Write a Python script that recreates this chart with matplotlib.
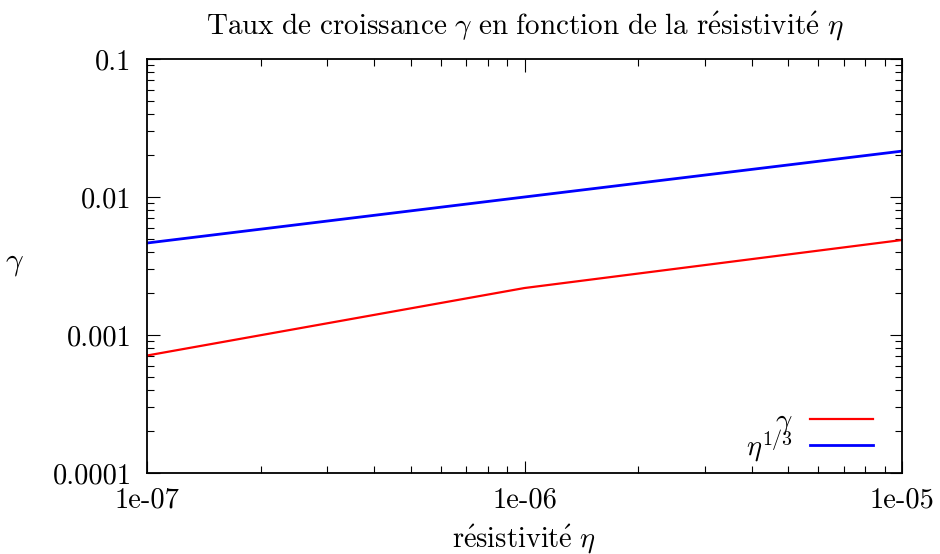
import matplotlib
matplotlib.use('Agg')
import matplotlib.pyplot as plt
from matplotlib.ticker import LogLocator, FuncFormatter, NullFormatter

# données
eta = [1e-7, 1e-6, 1e-5]
gamma = [7.1e-4, 2.19e-3, 4.88e-3]
eta_13 = [4.64e-3, 1.0e-2, 2.15e-2]

plt.rcParams['font.family'] = ['cmr10', 'DejaVu Serif']
plt.rcParams['mathtext.fontset'] = 'cm'
plt.rcParams['axes.unicode_minus'] = False

fs = 20.5

fig = plt.figure(figsize=(9.4, 5.54), dpi=100)
ax = fig.add_axes([147 / 940, 1 - 473 / 554, (902 - 147) / 940, (473 - 59) / 554])

ax.plot(eta, gamma, color='red', linewidth=1.6, label=r'$\gamma$')
ax.plot(eta, eta_13, color='blue', linewidth=2.0, label=r'$\eta^{1/3}$')

ax.set_xscale('log')
ax.set_yscale('log')
ax.set_xlim(1e-7, 1e-5)
ax.set_ylim(1e-4, 1e-1)

ax.xaxis.set_major_locator(LogLocator(base=10, numticks=10))
ax.xaxis.set_minor_locator(LogLocator(base=10, subs=range(2, 10), numticks=10))
ax.yaxis.set_major_locator(LogLocator(base=10, numticks=10))
ax.yaxis.set_minor_locator(LogLocator(base=10, subs=range(2, 10), numticks=10))
ax.xaxis.set_major_formatter(FuncFormatter(lambda v, p: '%.0e' % v))
ax.yaxis.set_major_formatter(FuncFormatter(lambda v, p: '%g' % v))
ax.xaxis.set_minor_formatter(NullFormatter())
ax.yaxis.set_minor_formatter(NullFormatter())

ax.tick_params(which='both', direction='in', top=True, right=True, labelsize=fs, width=0.8)
ax.tick_params(which='major', length=9)
ax.tick_params(which='minor', length=5)
ax.tick_params(axis='x', which='major', pad=10)
ax.tick_params(axis='y', which='major', pad=11)
for s in ax.spines.values():
    s.set_linewidth(1.3)

ax.set_title(r'$\mathrm{Taux\ de\ croissance}\ \gamma\ \mathrm{en\ fonction\ de\ la\ r\acute{e}sistivit\acute{e}}\ \eta$',
             fontsize=fs + 0.5, pad=18)
ax.set_xlabel(r'$\mathrm{r\acute{e}sistivit\acute{e}}\ \eta$', fontsize=fs)
ax.xaxis.set_label_coords(0.5, -0.12)
ax.set_ylabel(r'$\gamma$', fontsize=fs + 2, rotation=0)
ax.yaxis.set_label_coords(-0.175, 0.47)

leg = ax.legend(loc='lower right', bbox_to_anchor=(0.98, -0.012), frameon=False, markerfirst=False,
                fontsize=fs, handlelength=2.2, handletextpad=0.6, labelspacing=-0.34, borderpad=0)

fig.savefig('out.png', dpi=100)
